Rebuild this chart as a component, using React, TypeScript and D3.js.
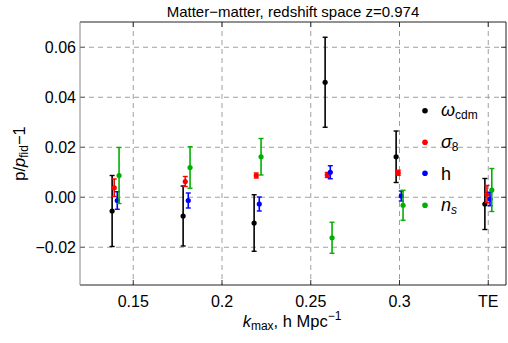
import React from 'react';
import * as d3 from 'd3';

// group positions (kmax) and tick labels
const groupK = [0.14, 0.18, 0.22, 0.26, 0.30, 0.35];
const xTicks = [0.15, 0.2, 0.25, 0.3, 0.35];
const xTickLabels = ['0.15', '0.2', '0.25', '0.3', 'TE'];
const yTicks = [-0.02, 0, 0.02, 0.04, 0.06];

const seriesNames = ['omega', 'sigma8', 'h', 'ns'];
const seriesColors = ['#000000', '#ff0000', '#0000ff', '#00b000'];
const seriesShift = [-0.0019, -0.0007, 0.001, 0.002];

// central values and errors per series, one per group
const omegaVals = [-0.0055, -0.0075, -0.0103, 0.046, 0.0162, -0.0027];
const omegaErr = [0.0142, 0.012, 0.0113, 0.018, 0.0103, 0.0102];
const sigma8Vals = [0.0038, 0.0063, 0.0087, 0.0089, 0.0098, 0.0013];
const sigma8Err = [0.0035, 0.002, 0.001, 0.001, 0.001, 0.0034];
const hVals = [-0.0013, -0.0013, -0.0027, 0.010, 0.0005, -0.0007];
const hErr = [0.0035, 0.003, 0.0028, 0.0026, 0.002, 0.0027];
const nsVals = [0.0087, 0.0119, 0.0162, -0.0162, -0.0032, 0.0029];
const nsErr = [0.0112, 0.0083, 0.0073, 0.0062, 0.006, 0.0086];

const allVals = [omegaVals, sigma8Vals, hVals, nsVals];
const allErr = [omegaErr, sigma8Err, hErr, nsErr];

const W = 508;
const H = 343;
const margin = { top: 22, right: 2, bottom: 58, left: 80 };
const font = 'Liberation Sans, Arial, sans-serif';

export default function App() {
  const x = d3.scaleLinear().domain([0.12, 0.36]).range([margin.left, W - margin.right]);
  const y = d3.scaleLinear().domain([-0.0351, 0.0701]).range([H - margin.bottom, margin.top]);
  const x0 = margin.left, x1 = W - margin.right, y0 = H - margin.bottom, y1 = margin.top;

  return (
    <svg width={W} height={H} style={{ position: 'absolute', left: 0, top: 0 }} fontFamily={font}>
      <rect width={W} height={H} fill="#fff" />
      {/* grid */}
      {xTicks.map(t => (
        <line key={'gx' + t} x1={x(t)} x2={x(t)} y1={y1} y2={y0} stroke="#a0a0a0" strokeDasharray="5,4" strokeWidth={1} />
      ))}
      {yTicks.map(t => (
        <line key={'gy' + t} x1={x0} x2={x1} y1={y(t)} y2={y(t)} stroke="#a0a0a0" strokeDasharray="5,4" strokeWidth={1} />
      ))}
      {/* ticks */}
      {xTicks.map(t => (
        <g key={'tx' + t}>
          <line x1={x(t)} x2={x(t)} y1={y0} y2={y0 - 5} stroke="#333" />
          <line x1={x(t)} x2={x(t)} y1={y1} y2={y1 + 5} stroke="#333" />
        </g>
      ))}
      {yTicks.map(t => (
        <g key={'ty' + t}>
          <line x1={x0} x2={x0 + 5} y1={y(t)} y2={y(t)} stroke="#666" />
          <line x1={x1} x2={x1 - 5} y1={y(t)} y2={y(t)} stroke="#333" />
        </g>
      ))}
      {/* frame */}
      <line x1={x0} x2={x1} y1={y0} y2={y0} stroke="#222" />
      <line x1={x0} x2={x1} y1={y1} y2={y1} stroke="#222" />
      <line x1={x1} x2={x1} y1={y1} y2={y0} stroke="#222" />
      <line x1={x0} x2={x0} y1={y1} y2={y0} stroke="#888" />
      {/* tick labels */}
      {xTicks.map((t, i) => (
        <text key={'lx' + t} x={x(t)} y={307} textAnchor="middle" fontSize={16} fill="#000">{xTickLabels[i]}</text>
      ))}
      {yTicks.map(t => (
        <text key={'ly' + t} x={76} y={y(t) + 5.5} textAnchor="end" fontSize={16} fill="#000">
          {t === 0 ? '0.00' : d3.format('.2f')(t).replace('-', '\u2212')}
        </text>
      ))}
      {/* data */}
      {allVals.map((vals, s) => (
        <g key={seriesNames[s]} stroke={seriesColors[s]} fill={seriesColors[s]}>
          {vals.map((v, i) => {
            const cx = x(groupK[i] + seriesShift[s]);
            const e = allErr[s][i];
            return (
              <g key={i}>
                <line x1={cx} x2={cx} y1={y(v - e)} y2={y(v + e)} strokeWidth={1.6} />
                <line x1={cx - 2.5} x2={cx + 2.5} y1={y(v - e)} y2={y(v - e)} strokeWidth={1.4} />
                <line x1={cx - 2.5} x2={cx + 2.5} y1={y(v + e)} y2={y(v + e)} strokeWidth={1.4} />
                <circle cx={cx} cy={y(v)} r={2.6} stroke="none" />
              </g>
            );
          })}
        </g>
      ))}
      {/* legend */}
      <g fontSize={18}>
        <circle cx={425} cy={110.7} r={2.8} fill={seriesColors[0]} />
        <text x={441} y={115.5}><tspan fontStyle="italic">ω</tspan><tspan fontSize={12} dy={3}>cdm</tspan></text>
        <circle cx={425} cy={142.3} r={2.8} fill={seriesColors[1]} />
        <text x={441} y={147.5}><tspan fontStyle="italic">σ</tspan><tspan fontSize={12} dy={3}>8</tspan></text>
        <circle cx={425} cy={173.3} r={2.8} fill={seriesColors[2]} />
        <text x={441} y={179.5}>h</text>
        <circle cx={425} cy={205.3} r={2.8} fill={seriesColors[3]} />
        <text x={441} y={210.5}><tspan fontStyle="italic">n</tspan><tspan fontSize={12} dy={3} fontStyle="italic">s</tspan></text>
      </g>
      {/* title */}
      <text x={293} y={16.5} textAnchor="middle" fontSize={15}>Matter−matter, redshift space z=0.974</text>
      {/* x label */}
      <text x={292} y={327} textAnchor="middle" fontSize={16.5}>
        <tspan fontStyle="italic">k</tspan><tspan fontSize={12} dy={3}>max</tspan><tspan dy={-3}>, h Mpc</tspan><tspan fontSize={12} dy={-7}>−1</tspan>
      </text>
      {/* y label */}
      <text transform={`translate(25,${(y0 + y1) / 2}) rotate(-90)`} textAnchor="middle" fontSize={16.5}>
        p/<tspan fontStyle="italic">p</tspan><tspan fontSize={12} dy={3}>fid</tspan><tspan dy={-3}>−1</tspan>
      </text>
    </svg>
  );
}
